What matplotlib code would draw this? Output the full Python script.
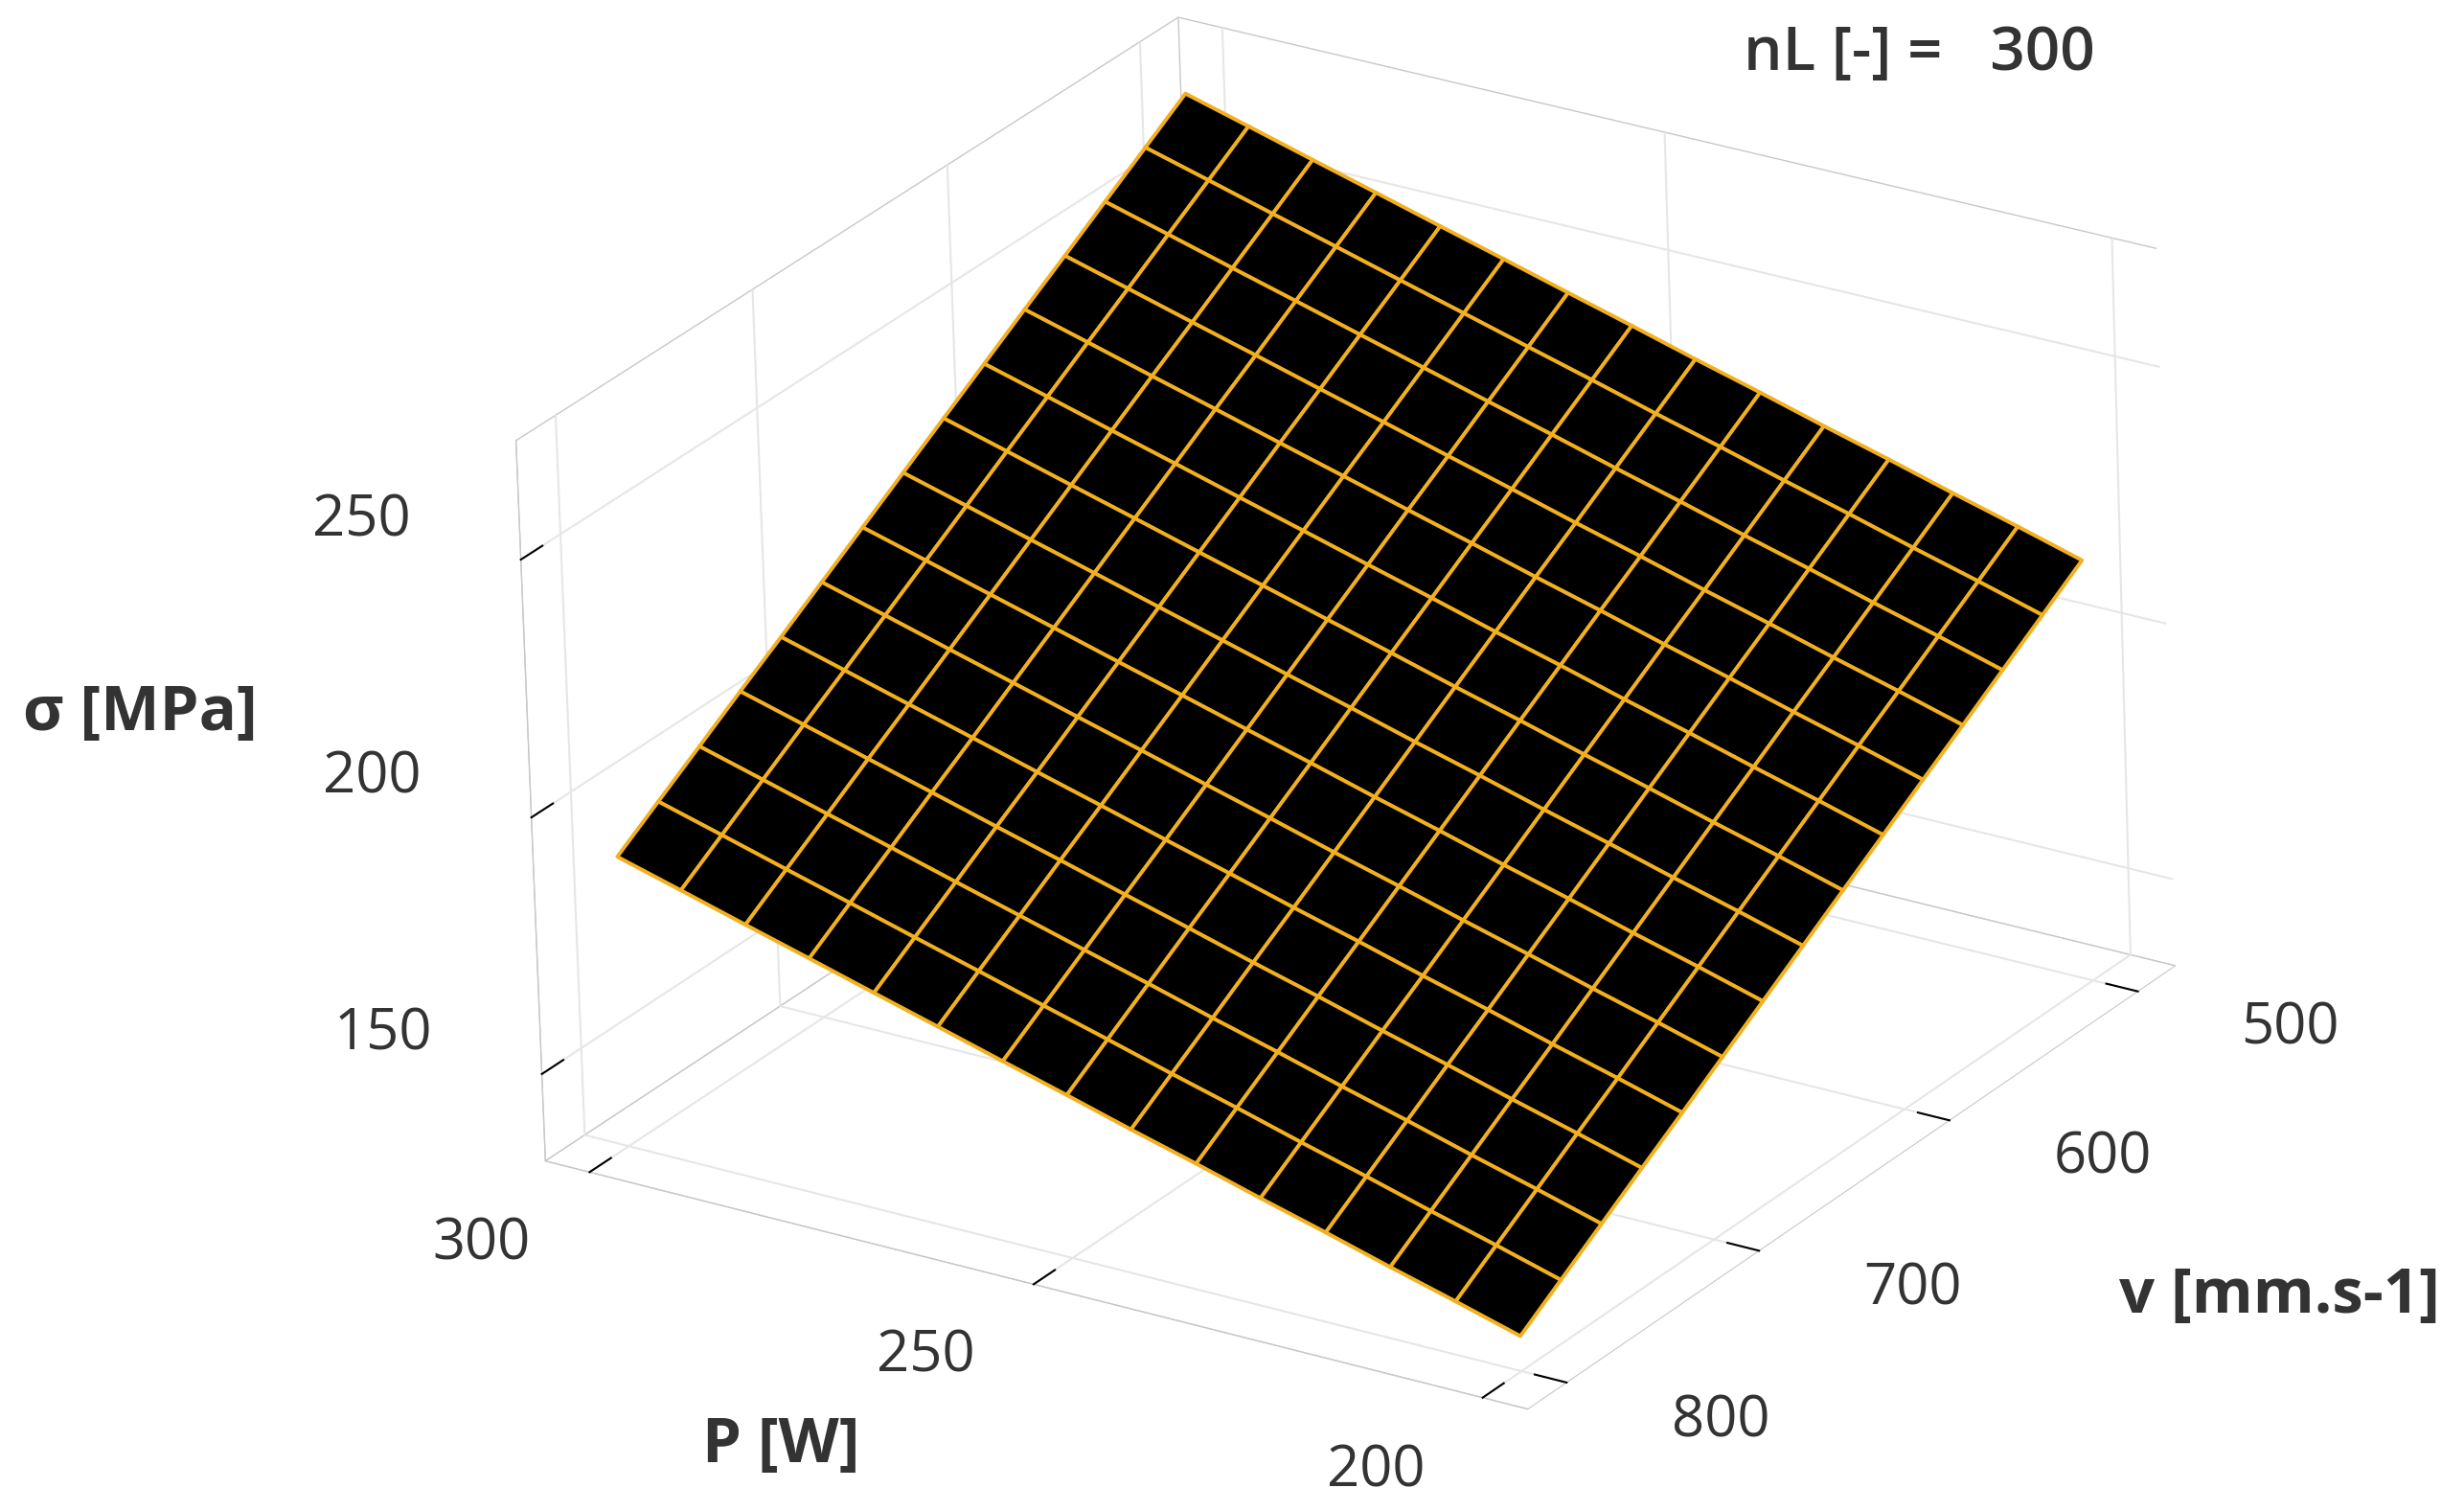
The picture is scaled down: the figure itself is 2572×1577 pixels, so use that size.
import matplotlib
matplotlib.use("Agg")
import matplotlib.pyplot as plt
import numpy as np

# grid of the response surface (nL = 300)
P_vals = [200, 207.1, 214.3, 221.4, 228.6, 235.7, 242.9, 250, 257.1, 264.3, 271.4, 278.6, 285.7, 292.9, 300]
v_vals = [500, 521.4, 542.9, 564.3, 585.7, 607.1, 628.6, 650, 671.4, 692.9, 714.3, 735.7, 757.1, 778.6, 800]

# sigma [MPa], one row per v value, one column per P value
sigma = [
    [215.2, 218.8, 222.3, 225.9, 229.4, 233.0, 236.5, 240.1, 243.6, 247.2, 250.7, 254.3, 257.8, 261.4, 264.9],
    [209.8, 213.4, 216.9, 220.5, 224.0, 227.6, 231.1, 234.7, 238.2, 241.8, 245.3, 248.9, 252.4, 256.0, 259.5],
    [204.4, 208.0, 211.5, 215.1, 218.6, 222.2, 225.7, 229.3, 232.8, 236.4, 239.9, 243.5, 247.0, 250.6, 254.1],
    [199.0, 202.6, 206.1, 209.7, 213.2, 216.8, 220.3, 223.9, 227.4, 231.0, 234.5, 238.1, 241.6, 245.2, 248.7],
    [193.7, 197.3, 200.8, 204.4, 207.9, 211.5, 215.0, 218.6, 222.1, 225.7, 229.2, 232.8, 236.3, 239.9, 243.4],
    [188.3, 191.9, 195.4, 199.0, 202.5, 206.1, 209.6, 213.2, 216.7, 220.3, 223.8, 227.4, 230.9, 234.5, 238.0],
    [182.9, 186.5, 190.0, 193.6, 197.1, 200.7, 204.2, 207.8, 211.3, 214.9, 218.4, 222.0, 225.5, 229.1, 232.6],
    [177.5, 181.1, 184.6, 188.2, 191.7, 195.3, 198.8, 202.4, 205.9, 209.5, 213.0, 216.6, 220.1, 223.7, 227.2],
    [172.1, 175.7, 179.2, 182.8, 186.3, 189.9, 193.4, 197.0, 200.5, 204.1, 207.6, 211.2, 214.7, 218.3, 221.8],
    [166.7, 170.3, 173.8, 177.4, 180.9, 184.5, 188.0, 191.6, 195.1, 198.7, 202.2, 205.8, 209.3, 212.9, 216.4],
    [161.3, 164.9, 168.4, 172.0, 175.5, 179.1, 182.6, 186.2, 189.7, 193.3, 196.8, 200.4, 203.9, 207.5, 211.0],
    [156.0, 159.6, 163.1, 166.7, 170.2, 173.8, 177.3, 180.9, 184.4, 188.0, 191.5, 195.1, 198.6, 202.2, 205.7],
    [150.6, 154.2, 157.7, 161.3, 164.8, 168.4, 171.9, 175.5, 179.0, 182.6, 186.1, 189.7, 193.2, 196.8, 200.3],
    [145.2, 148.8, 152.3, 155.9, 159.4, 163.0, 166.5, 170.1, 173.6, 177.2, 180.7, 184.3, 187.8, 191.4, 194.9],
    [139.8, 143.4, 146.9, 150.5, 154.0, 157.6, 161.1, 164.7, 168.2, 171.8, 175.3, 178.9, 182.4, 186.0, 189.5],
]

P_ticks = [200, 250, 300]
v_ticks = [500, 600, 700, 800]
s_ticks = [150, 200, 250]
nL = 300

plt.rcParams['font.family'] = ['Open Sans', 'DejaVu Sans']
txt = '#333333'

fig = plt.figure(figsize=(25.72, 15.77), dpi=100)
ax = fig.add_axes([0.04, 0.02, 1, 1], projection='3d')

PP, VV = np.meshgrid(P_vals, v_vals)
ax.plot_surface(PP, VV, np.array(sigma), color='black', edgecolor='#F2B01E',
                linewidth=2.8, shade=False, rstride=1, cstride=1)

xlo, xhi = 195, 305
ylo, yhi = 480, 820
zlo, zhi = 133, 273
ax.set_xlim(xlo, xhi)
ax.set_ylim(ylo, yhi)
ax.set_zlim(zlo, zhi)
ax.set_xticks(P_ticks)
ax.set_yticks(v_ticks)
ax.set_zticks(s_ticks)
for axis in (ax.xaxis, ax.yaxis, ax.zaxis):
    axis.set_tick_params(labelbottom=False)

ax.set_proj_type('persp', focal_length=6)
ax.view_init(elev=24.5, azim=124, roll=1.9)
ax.set_box_aspect((1.046, 1.067, 0.705), zoom=1.19)
ax.zaxis.set_ticks_position('upper')

for axis in (ax.xaxis, ax.yaxis, ax.zaxis):
    axis.set_pane_color((1, 1, 1, 1))
    axis.pane.set_edgecolor('#c8c8c8')
    axis.line.set_color('#c8c8c8')
    axis._axinfo['grid'].update(color='#e6e6e6', linewidth=1.5)
    axis._axinfo['tick'].update(inward_factor=0, outward_factor=0.4, color='#bbbbbb',
                                linewidth={True: 1.5, False: 1.0})

# tick labels, each pushed straight out from its own edge
lab = dict(fontsize=43, color=txt, ha='center', va='center')
for p in P_ticks:
    ax.text(p, yhi + 55, zlo, str(p), **lab)
for v in v_ticks:
    ax.text(xlo - 17, v, zlo, str(v), **lab)
for s in s_ticks:
    ax.text(xhi + 18, yhi, s, str(s), **lab)

# axis titles, placed horizontally as in the original
fig.text(0.317, 0.043, 'P [W]', fontsize=47, fontweight='bold', color=txt, ha='center', va='center')
fig.text(0.925, 0.142, 'v [mm.s-1]', fontsize=47, fontweight='bold', color=txt, ha='center', va='center')
fig.text(0.057, 0.527, 'σ [MPa]', fontsize=47, fontweight='bold', color=txt, ha='center', va='center')

fig.text(0.779, 0.964, 'nL [-] =   {}'.format(nL), fontsize=46, fontweight='semibold',
         color=txt, ha='center', va='center')

fig.savefig('out.png', dpi=100, facecolor='white')
